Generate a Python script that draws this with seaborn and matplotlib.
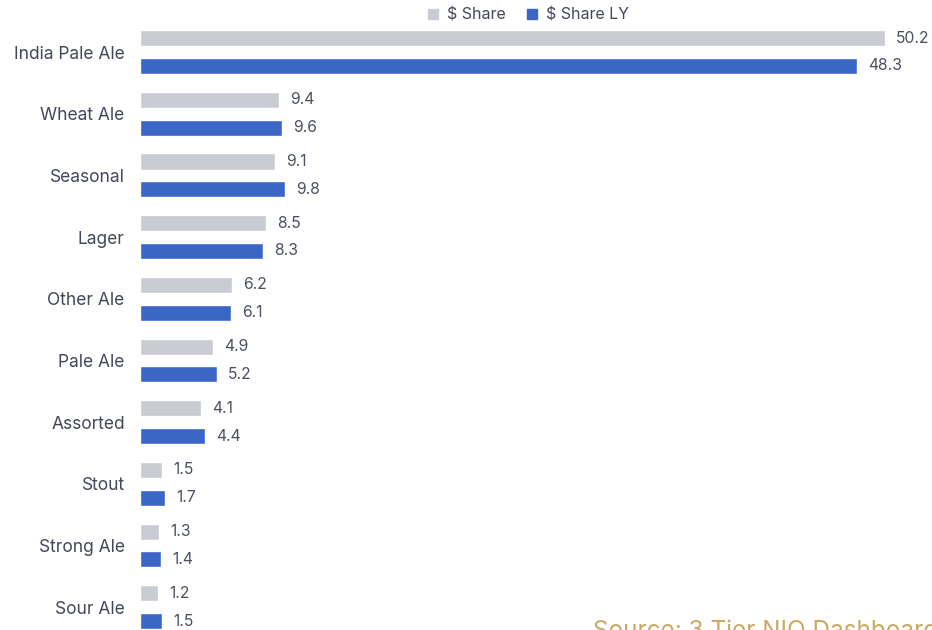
import matplotlib
matplotlib.use("Agg")
import matplotlib.pyplot as plt
import seaborn as sns
import pandas as pd
from matplotlib.lines import Line2D

categories = ["India Pale Ale", "Wheat Ale", "Seasonal", "Lager", "Other Ale",
              "Pale Ale", "Assorted", "Stout", "Strong Ale", "Sour Ale"]
share = [50.2, 9.4, 9.1, 8.5, 6.2, 4.9, 4.1, 1.5, 1.3, 1.2]
share_ly = [48.3, 9.6, 9.8, 8.3, 6.1, 5.2, 4.4, 1.7, 1.4, 1.5]
series = ["$ Share", "$ Share LY"]
colors = ["#C9CCD2", "#3B66C5"]

df = pd.DataFrame({
    "category": categories * 2,
    "value": share + share_ly,
    "series": [series[0]] * len(categories) + [series[1]] * len(categories),
})

sns.set_style("white")
plt.rcParams["font.family"] = ["Inter", "DejaVu Sans"]

W, H = 932, 630
fig = plt.figure(figsize=(W / 100, H / 100), dpi=100)
left_px, top_px = 140, 21.2
ax = fig.add_axes([left_px / W, 0, (W - left_px) / W, (H - top_px) / H])

sns.barplot(data=df, y="category", x="value", hue="series", palette=colors,
            orient="h", width=0.9, gap=0.42, ax=ax, legend=False, saturation=1)

ax.set_xlim(0, (W - left_px) / 14.84)
ax.set_ylim(9.37, -0.5)
ax.set_xlabel("")
ax.set_ylabel("")
ax.set_xticks([])
for s in ax.spines.values():
    s.set_visible(False)
ax.tick_params(axis="y", length=0, pad=11, labelsize=12.5, labelcolor="#434858")

for cont in ax.containers:
    ax.bar_label(cont, fmt="%.1f", padding=8, fontsize=11.3, color="#4A5060")

handles = [Line2D([0], [0], marker="s", linestyle="", markersize=7.5,
                  markerfacecolor=c, markeredgecolor=c) for c in colors]
fig.legend(handles, series, loc="center", bbox_to_anchor=(523 / W, 1 - 15 / H),
           ncol=2, frameon=False, fontsize=11.5, handletextpad=-0.1,
           columnspacing=0.6, labelcolor="#434858")

fig.text(593 / W, 1 - 620 / H, "Source: 3 Tier NIQ Dashboard", color="#C9A964",
         fontsize=17.5, va="top", ha="left")

fig.savefig("out.png", dpi=100)
